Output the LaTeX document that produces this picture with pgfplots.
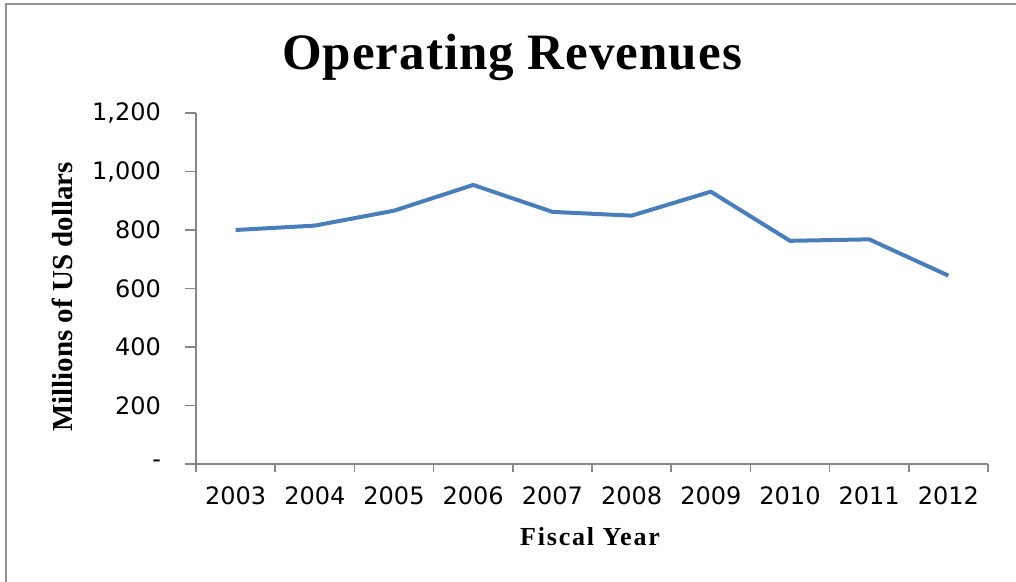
\documentclass[border=0pt]{standalone}
\usepackage{fontspec}
\setmainfont{Liberation Serif}
\newfontfamily\tickfont{DejaVu Sans}
\usepackage{pgfplots}
\pgfplotsset{compat=1.18}
\definecolor{linec}{HTML}{4A7EBB}
\definecolor{axc}{HTML}{868686}
\begin{document}
\begin{tikzpicture}
\path[use as bounding box] (-98pt,-59pt) rectangle (410pt,232pt);
\draw[color=axc!90, line width=1.2pt] (-95pt,-60pt) -- (-95pt,230pt) -- (411pt,230pt);
\begin{axis}[
  at={(0pt,0pt)}, anchor=south west,
  width=396pt, height=175.5pt, scale only axis,
  xmin=-0.5, xmax=9.5, ymin=0, ymax=1200,
  axis x line*=bottom, axis y line*=left,
  axis line style={axc, line width=0.8pt},
  ytick={0,200,...,1200},
  yticklabels={-,200,400,600,800,{1,000},{1,200}},
  xtick={0,...,9},
  xticklabels={2003,2004,2005,2006,2007,2008,2009,2010,2011,2012},
  minor xtick={-0.5,0.5,...,9.5},
  tick align=outside,
  major tick length=5.5pt,
  minor tick length=4pt,
  major x tick style={draw=none},
  tick style={axc, line width=0.8pt},
  ticklabel style={font=\tickfont\fontsize{12}{14}\selectfont, text=black},
  yticklabel style={xshift=-8.5pt},
  xticklabel style={yshift=-2.5pt},
  title={Operating Revenues},
  title style={at={(axis description cs:0.399,1.1227)}, anchor=center, font=\bfseries\fontsize{25.5}{30}\selectfont\addfontfeature{LetterSpace=2}},
  xlabel={Fiscal Year},
  xlabel style={at={(axis description cs:0.4975,-0.208)}, anchor=center, font=\bfseries\fontsize{13}{15}\selectfont\addfontfeature{LetterSpace=7}},
  ylabel={Millions of US dollars},
  ylabel style={at={(axis description cs:-0.169,0.476)}, anchor=center, font=\bfseries\fontsize{14.5}{16}\selectfont},
]
\addplot[color=linec, line width=2pt, line join=round] coordinates {
  (0,800) (1,815) (2,866) (3,954) (4,862) (5,849) (6,931) (7,763) (8,768) (9,644)
};
\end{axis}
\end{tikzpicture}
\end{document}
